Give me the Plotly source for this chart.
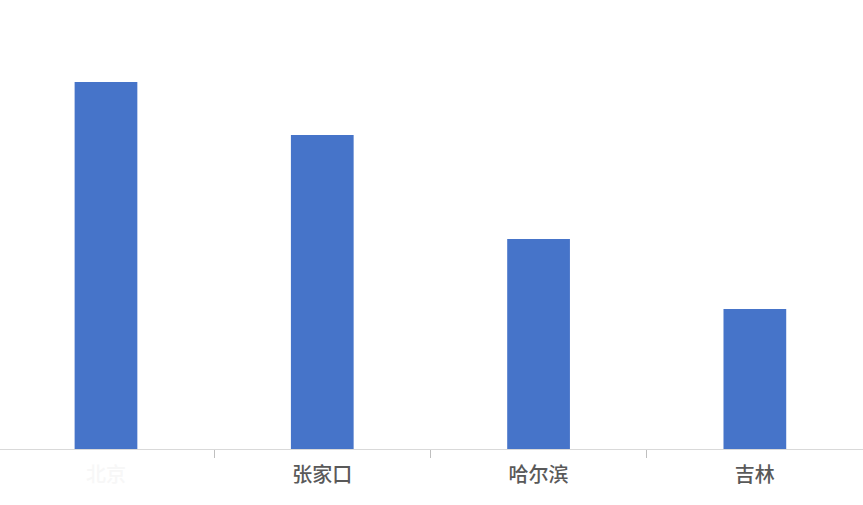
import plotly.graph_objs as go

cities = ['北京', '张家口', '哈尔滨', '吉林']
values = [36.7, 31.4, 21.0, 14.0]
tick_labels = ['<span style="color:#f7f7f7">北京</span>', '张家口', '哈尔滨', '吉林']


figure = go.Figure()
figure.add_trace(
    go.Bar(
        x=cities,
        y=values,
        width=0.29,
        marker=dict(color='#4674C9', line=dict(width=0)),
        showlegend=False,
    )
)
#
figure.update_layout(
    width=863, height=505,
    plot_bgcolor='white', paper_bgcolor='white',
    margin=dict(l=0, r=0, t=0, b=56),
    font_family='Noto Sans CJK SC', font_size=20,
)
figure.update_xaxes(
    type='category',
    range=[-0.49, 3.5],
    tickmode='array', tickvals=cities, ticktext=tick_labels,
    tickson='boundaries', ticks='outside', ticklen=8, tickcolor='#bfbfbf',
    ticklabelstandoff=8,
    showline=True, linecolor='#d9d9d9', linewidth=1,
    showgrid=False,
    tickfont=dict(color='#595959', size=20, weight=500),
)
figure.update_yaxes(range=[0, 44.9], visible=False, showgrid=False)
#
figure.write_html('out.html', config={'displayModeBar': False},
                  post_script="document.body.style.margin='0';")
